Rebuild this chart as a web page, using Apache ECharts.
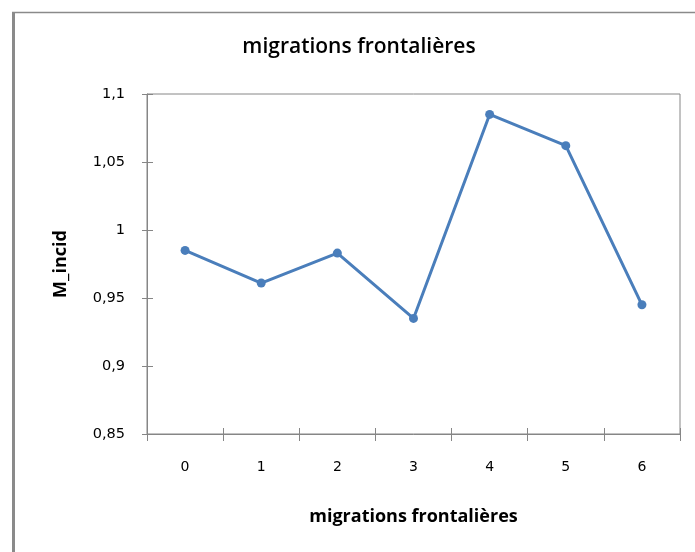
<!DOCTYPE html>
<html lang="fr">
<head>
    <meta charset="UTF-8">
    <title>migrations frontalières</title>
    <script type="text/javascript" src="https://cdn.jsdelivr.net/npm/echarts@6/dist/echarts.min.js"></script>
    <style>
        html, body { margin: 0; padding: 0; background: #fff; }
    </style>
</head>
<body>
<div id="chart" style="width: 695px;height:552px;"></div>
<script>
    // données
    var categories = ['0', '1', '2', '3', '4', '5', '6'];
    var mIncid = [0.985, 0.961, 0.983, 0.935, 1.085, 1.062, 0.945];
    var yTicks = [0.85, 0.9, 0.95, 1, 1.05, 1.1];

    var grey = '#868686';
    var labelFont = 'DejaVu Sans';
    var nameFont = 'Open Sans';

    // virgule décimale comme dans l'original
    function fr(v) {
        return String(+v.toFixed(2)).replace('.', ',');
    }

    var option = {
        animation: false,
        backgroundColor: '#fff',
        title: {
            text: 'migrations frontalières',
            left: 354,
            top: 32,
            textAlign: 'center',
            textStyle: {
                fontFamily: nameFont,
                fontSize: 21,
                fontWeight: 600,
                color: '#000'
            }
        },
        graphic: [
            // cadre de l'image
            {type: 'line', shape: {x1: 13.5, y1: 12, x2: 13.5, y2: 552}, style: {stroke: '#8a8a8a', lineWidth: 3}},
            {type: 'line', shape: {x1: 12, y1: 12.5, x2: 695, y2: 12.5}, style: {stroke: '#8a8a8a', lineWidth: 1.5}}
        ],
        grid: {
            left: 147,
            top: 94,
            width: 533,
            height: 340,
            show: true,
            borderColor: grey,
            borderWidth: 1
        },
        xAxis: [
            {
                type: 'category',
                data: categories,
                boundaryGap: true,
                name: 'migrations frontalières',
                nameLocation: 'middle',
                nameGap: 74,
                nameTextStyle: {fontFamily: nameFont, fontSize: 18, fontWeight: 'bold', color: '#000'},
                axisLine: {lineStyle: {color: grey, width: 1}},
                axisTick: {show: true, length: 7, lineStyle: {color: grey}},
                axisLabel: {margin: 26, fontFamily: labelFont, fontSize: 14, color: '#000'},
                splitLine: {show: false}
            },
            {
                // petites graduations intérieures
                type: 'category',
                data: categories,
                position: 'bottom',
                boundaryGap: true,
                axisLine: {show: false},
                axisTick: {show: true, inside: true, length: 6, lineStyle: {color: grey}},
                axisLabel: {show: false},
                splitLine: {show: false}
            }
        ],
        yAxis: [
            {
                type: 'value',
                min: yTicks[0],
                max: yTicks[yTicks.length - 1],
                interval: 0.05,
                name: 'M_incid',
                nameLocation: 'middle',
                nameRotate: 90,
                nameGap: 77,
                nameTextStyle: {fontFamily: nameFont, fontSize: 18, fontWeight: 'bold', color: '#000'},
                axisLine: {show: true, lineStyle: {color: grey, width: 1}},
                axisTick: {show: true, length: 5, lineStyle: {color: grey}},
                axisLabel: {margin: 22, fontFamily: labelFont, fontSize: 14.5, color: '#000', formatter: fr},
                splitLine: {show: false}
            },
            {
                type: 'value',
                position: 'left',
                min: yTicks[0],
                max: yTicks[yTicks.length - 1],
                interval: 0.05,
                axisLine: {show: false},
                axisTick: {show: true, inside: true, length: 6, lineStyle: {color: grey}},
                axisLabel: {show: false},
                splitLine: {show: false}
            }
        ],
        series: [
            {
                name: 'M_incid',
                type: 'line',
                data: mIncid,
                symbol: 'circle',
                symbolSize: 9,
                lineStyle: {color: '#4a7ebb', width: 3},
                itemStyle: {color: '#4a7ebb'}
            }
        ]
    };

    var myChart = echarts.init(document.getElementById('chart'));
    myChart.setOption(option);
</script>
</body>
</html>
